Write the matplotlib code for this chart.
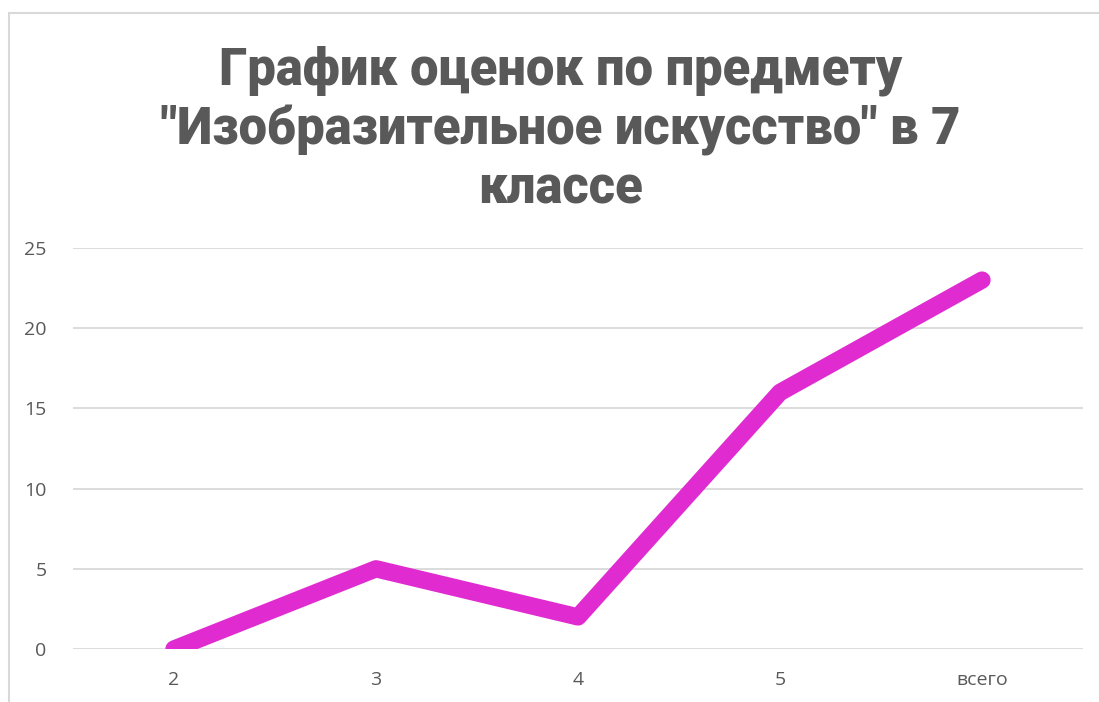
import matplotlib.pyplot as plt
from matplotlib.patches import Rectangle

categories = ["2", "3", "4", "5", "всего"]
values = [0, 5, 2, 16, 23]
title = 'График оценок по предмету\n"Изобразительное искусство" в 7\nклассе'

fig = plt.figure(figsize=(10.99, 7.02), dpi=100)
# chart border like in excel
fig.patches.append(Rectangle((9 / 1099, -0.1), 1.2, 1 - 13 / 702 + 0.1, transform=fig.transFigure,
                             fill=False, edgecolor="#D9D9D9", linewidth=1.5))

ax = fig.add_axes([73 / 1099, 1 - 649 / 702, 1010 / 1099, 401 / 702])
x = list(range(len(categories)))
ax.plot(x, values, color="#E02BD0", linewidth=12.5, solid_capstyle="round",
        solid_joinstyle="round", zorder=3)
ax.set_xlim(-0.5, len(categories) - 0.5)
ax.set_ylim(0, 25)
ax.set_yticks([0, 5, 10, 15, 20, 25])
ax.set_xticks(x)
ax.set_xticklabels(categories)
ax.grid(axis="y", color="#D9D9D9", linewidth=1.3)
ax.set_axisbelow(True)
for s in ax.spines.values():
    s.set_visible(False)
ax.tick_params(length=0, labelsize=14, labelcolor="#595959")
ax.tick_params(axis="y", pad=19)
ax.tick_params(axis="x", pad=16)
for lab in ax.get_xticklabels() + ax.get_yticklabels():
    lab.set_family("Open Sans")

fig.text(0.51, 1 - 130 / 702, title, ha="center", va="center", fontsize=36.5,
         fontweight="black", family="Roboto", color="#595959", linespacing=1.22)

fig.savefig("out.png", dpi=100)
